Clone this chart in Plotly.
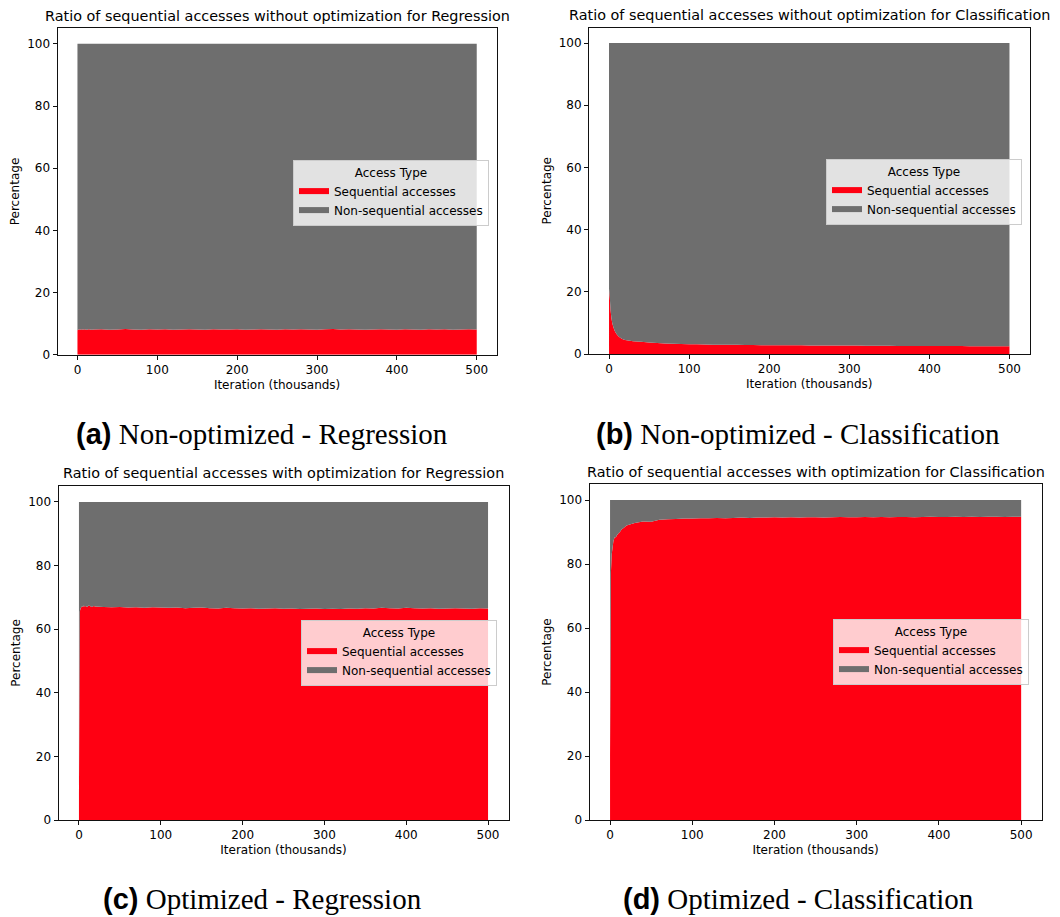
import plotly.graph_objects as go

# ---------------- data ----------------
iterations = [0, 1, 2, 3, 4, 5, 6, 7, 8, 10, 12, 14, 16, 18,
              20, 30, 40, 50, 60, 70, 80, 90, 100, 110,
              120, 130, 140, 150, 160, 170, 180, 190, 200, 210,
              220, 230, 240, 250, 260, 270, 280, 290, 300, 310,
              320, 330, 340, 350, 360, 370, 380, 390, 400, 410,
              420, 430, 440, 450, 460, 470, 480, 490, 500]

seq_reg_noopt = [7.9, 8.0, 8.2, 8.1, 8.0, 8.2, 8.1, 8.0, 8.2, 8.1, 8.0, 8.2, 8.1, 8.0,
                 8.1, 8.2, 8.0, 8.1, 8.3, 8.1, 8.0, 8.2, 8.1, 8.2,
                 8.0, 8.1, 8.2, 8.1, 8.0, 8.2, 8.1, 8.1, 8.2, 8.0,
                 8.1, 8.2, 8.1, 8.0, 8.2, 8.1, 8.2, 8.1, 8.0, 8.2,
                 8.3, 8.1, 8.2, 8.1, 8.0, 8.1, 8.2, 8.1, 8.0, 8.2,
                 8.1, 8.0, 8.2, 8.1, 8.2, 8.0, 8.1, 8.2, 8.1]

seq_cls_noopt = [21.0, 18.0, 14.0, 11.5, 10.0, 9.0, 8.2, 7.5, 7.0, 6.2, 5.6, 5.2, 4.9, 4.7,
                 4.5, 4.1, 3.9, 3.7, 3.5, 3.4, 3.3, 3.2, 3.15, 3.1,
                 3.05, 3.0, 3.0, 2.95, 2.95, 2.9, 2.9, 2.85, 2.85, 2.85,
                 2.8, 2.8, 2.8, 2.75, 2.75, 2.75, 2.7, 2.7, 2.7, 2.7,
                 2.65, 2.65, 2.65, 2.65, 2.6, 2.6, 2.6, 2.6, 2.6, 2.55,
                 2.55, 2.55, 2.55, 2.5, 2.5, 2.5, 2.5, 2.5, 2.5]

seq_reg_opt = [7.9, 65.5, 66.5, 67.0, 67.2, 67.0, 67.4, 67.1, 67.3, 67.0, 67.4, 67.2, 67.0, 67.3,
               67.1, 67.0, 66.9, 67.0, 66.8, 66.9, 66.7, 66.9, 66.8, 66.7,
               66.8, 66.6, 66.7, 66.8, 66.6, 66.5, 66.7, 66.6, 66.5, 66.6,
               66.4, 66.5, 66.6, 66.4, 66.5, 66.3, 66.4, 66.5, 66.3, 66.4,
               66.3, 66.5, 66.4, 66.6, 66.5, 66.7, 66.6, 66.5, 66.7, 66.6,
               66.5, 66.6, 66.4, 66.5, 66.6, 66.5, 66.4, 66.6, 66.5]

seq_cls_opt = [20.0, 77.0, 83.0, 85.0, 87.0, 88.0, 88.5, 88.3, 88.8, 89.5, 90.0, 90.8, 91.2, 91.6,
               92.0, 92.8, 93.3, 93.2, 93.8, 94.0, 94.1, 94.2, 94.2, 94.3,
               94.3, 94.4, 94.3, 94.4, 94.5, 94.4, 94.5, 94.5, 94.6, 94.5,
               94.6, 94.5, 94.6, 94.6, 94.5, 94.6, 94.7, 94.6, 94.6, 94.7,
               94.6, 94.7, 94.6, 94.7, 94.7, 94.6, 94.7, 94.8, 94.7, 94.7,
               94.8, 94.7, 94.8, 94.7, 94.8, 94.8, 94.7, 94.8, 94.8]

series_names = ["Sequential accesses", "Non-sequential accesses"]
legend_title = "Access Type"
x_ticks = [0, 100, 200, 300, 400, 500]
y_ticks = [0, 20, 40, 60, 80, 100]

titles = ["Ratio of sequential accesses without optimization for Regression",
          "Ratio of sequential accesses without optimization for Classification",
          "Ratio of sequential accesses with optimization for Regression",
          "Ratio of sequential accesses with optimization for Classification"]
caption_tags = ["(a)", "(b)", "(c)", "(d)"]
caption_texts = ["Non-optimized - Regression", "Non-optimized - Classification",
                 "Optimized - Regression", "Optimized - Classification"]

# ---------------- layout constants ----------------
W, H = 1060, 917
RED = "#ff0012"
GRAY = "#6e6e6e"
SANS = "DejaVu Sans"

# axes boxes in pixels: (left, right, top, bottom)
boxes = [(57.5, 496.7, 28.3, 354.7),
         (589.0, 1029.5, 27.5, 354.0),
         (58.5, 508.5, 486.0, 820.0),
         (589.5, 1041.7, 484.0, 820.0)]
legend_pos = [(293, 160), (826, 159), (301, 620), (833, 619)]
title_y = [16.0, 15.0, 472.5, 471.5]
caption_pos = [(262, 434), (798, 434), (262, 899), (798, 899)]

all_seq = [seq_reg_noopt, seq_cls_noopt, seq_reg_opt, seq_cls_opt]

fig = go.Figure()
annotations = []
layout_axes = {}

for i in range(4):
    n = i + 1
    xa = "x" if n == 1 else f"x{n}"
    ya = "y" if n == 1 else f"y{n}"
    lg = "legend" if n == 1 else f"legend{n}"
    seq = all_seq[i]
    nonseq = [100 - v for v in seq]
    fig.add_trace(go.Scatter(x=iterations, y=seq, stackgroup=f"s{n}", mode="none",
                             fillcolor=RED, name=series_names[0], xaxis=xa, yaxis=ya,
                             legend=lg, hoverinfo="skip"))
    fig.add_trace(go.Scatter(x=iterations, y=nonseq, stackgroup=f"s{n}", mode="none",
                             fillcolor=GRAY, name=series_names[1], xaxis=xa, yaxis=ya,
                             legend=lg, hoverinfo="skip"))

    l, r, t, b = boxes[i]
    common = dict(showline=True, linecolor="#111111", linewidth=1, mirror=True,
                  ticks="outside", ticklen=4, tickwidth=1, tickcolor="#111111",
                  showgrid=False, zeroline=False, automargin=False,
                  tickfont=dict(family=SANS, size=12, color="#000000"))
    layout_axes["xaxis" if n == 1 else f"xaxis{n}"] = dict(
        domain=[l / W, r / W], range=[-25, 525], anchor=ya,
        tickvals=x_ticks,
        title=dict(text="Iteration (thousands)", standoff=4,
                   font=dict(family=SANS, size=12, color="#000000")),
        **common)
    layout_axes["yaxis" if n == 1 else f"yaxis{n}"] = dict(
        domain=[1 - b / H, 1 - t / H], range=[0, 105], anchor=xa,
        tickvals=y_ticks,
        title=dict(text="Percentage", standoff=4,
                   font=dict(family=SANS, size=12, color="#000000")),
        **common)

    lx, ly = legend_pos[i]
    layout_axes[lg] = dict(
        x=lx / W, y=1 - ly / H, xanchor="left", yanchor="top",
        bgcolor="rgba(255,255,255,0.8)", bordercolor="#cccccc", borderwidth=1,
        font=dict(family=SANS, size=12, color="#000000"),
        title=dict(text=legend_title, side="top center",
                   font=dict(family=SANS, size=12, color="#000000")),
        traceorder="normal", tracegroupgap=0, itemwidth=30)

    annotations.append(dict(text=titles[i], xref="paper", yref="paper",
                            x=(l + r) / 2 / W, y=1 - title_y[i] / H,
                            xanchor="center", yanchor="middle", showarrow=False,
                            font=dict(family=SANS, size=14.4, color="#000000")))
    cx, cy = caption_pos[i]
    annotations.append(dict(
        text=f'<span style="font-family:Arial"><b>{caption_tags[i]}</b></span> {caption_texts[i]}',
        xref="paper", yref="paper", x=cx / W, y=1 - cy / H,
        xanchor="center", yanchor="middle", showarrow=False,
        font=dict(family="Liberation Serif", size=29, color="#000000")))

fig.update_layout(width=W, height=H, margin=dict(l=0, r=0, t=0, b=0),
                  paper_bgcolor="white", plot_bgcolor="white",
                  showlegend=True, annotations=annotations, **layout_axes)

fig.write_html("out.html", config={"displayModeBar": False},
               post_script="document.body.style.margin='0';document.body.style.overflow='hidden';")
